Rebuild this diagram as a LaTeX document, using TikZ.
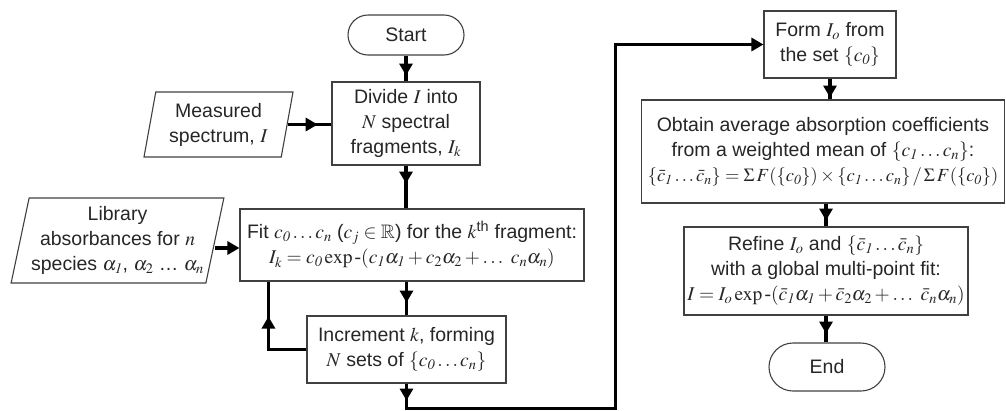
\documentclass[tikz,border=0pt]{standalone}
\usepackage{amssymb}
\usepackage{mathptmx}
\usepackage[no-math]{fontspec}
\setmainfont{Liberation Sans}
\newfontfamily\tms{Liberation Serif}
\usetikzlibrary{arrows.meta,shapes.geometric,decorations.markings}
\newcommand{\hy}{\mbox{\tms -}}

\begin{document}
\begin{tikzpicture}[
  x=1pt,y=-1pt,
  box/.style={draw=black!75,line width=1.1pt,align=center,inner sep=2pt,text=black!85,font=\fontsize{19.5}{25}\selectfont},
  term/.style={box,rounded corners=20pt},
  data/.style={box,trapezium,trapezium left angle=76,trapezium right angle=104,trapezium stretches body},
  lin/.style={line width=3.5pt},
  arr/.style={lin,-{Triangle[length=12pt,width=13pt]}},
  midarr/.style={postaction={decorate},decoration={markings,mark=at position #1 with {\arrow{Triangle[length=12pt,width=13pt]}}}}
]
\useasboundingbox (0,0) rectangle (1006,410);
\node[term,minimum width=116pt,minimum height=40pt] (start) at (406,35) {Start};
\node[box,minimum width=148pt,minimum height=83pt] (divide) at (406,123.5) {Divide $I$ into\\$N$ spectral\\fragments, $I_k$};
\node[data,minimum width=149pt,minimum height=65pt] (meas) at (218.5,124.5) {Measured\\spectrum, $I$};
\node[data,minimum width=207pt,minimum height=85pt] (lib) at (117.5,240.5) {Library\\absorbances for $n$\\species $\alpha_{\mathit{1}}$, $\alpha_2$ \ldots\ $\alpha_n$};
\node[box,minimum width=344pt,minimum height=72pt] (fit) at (412,245) {Fit $c_{\mathit{0}}\ldots c_n$ ($c_j\in\mathbb{R}$) for the $k$\textsuperscript{th} fragment:\\$I_k = c_{\mathit{0}}\exp\hy(c_{\mathit{1}}\alpha_{\mathit{1}} + c_2\alpha_2 + \ldots\ c_n\alpha_n)$};
\node[box,minimum width=199pt,minimum height=67pt] (incr) at (406.5,349.5) {Increment $k$, forming\\$N$ sets of $\{c_{\mathit{0}}\ldots c_n\}$};
\node[box,minimum width=132pt,minimum height=67pt] (form) at (830,44.5) {Form $I_o$ from\\the set $\{c_{\mathit{0}}\}$};
\node[box,minimum width=363pt,minimum height=103pt] (obtain) at (823,151.5) {Obtain average absorption coefficients\\from a weighted mean of $\{c_{\mathit{1}}\ldots c_n\}$:\\{\fontsize{18.5}{25}\selectfont$\{\bar c_{\mathit{1}}\ldots\bar c_n\} = \Sigma\,F(\{c_{\mathit{0}}\})\times\{c_{\mathit{1}}\ldots c_n\}\,/\,\Sigma\,F(\{c_{\mathit{0}}\})$}};
\node[box,minimum width=284pt,minimum height=88pt] (refine) at (826,271) {Refine $I_o$ and $\{\bar c_{\mathit{1}}\ldots\bar c_n\}$\\with a global multi-point fit:\\$I = I_o\exp\hy(\bar c_{\mathit{1}}\alpha_{\mathit{1}} + \bar c_2\alpha_2 + \ldots\ \bar c_n\alpha_n)$};
\node[term,rounded corners=24pt,minimum width=116pt,minimum height=48pt] (stop) at (827,367) {End};
\draw[lin,midarr=20pt] (start) -- (divide);
\draw[lin,midarr=30pt] (meas.east) -- (meas.east -| divide.west);
\draw[lin,midarr=18pt] (divide.south) -- (divide.south |- fit.north);
\draw[arr] ([yshift=-7.5pt]lib.east) -- ([yshift=-7.5pt]lib.east -| fit.west);
\draw[lin,midarr=21pt] (incr.north |- fit.south) -- (incr.north);
\draw[lin,midarr=71pt] (incr.west) -| ([xshift=29pt]fit.south west);
\draw[arr,midarr=17pt] (incr.south) -- ++(0,25) -- ++(209,0) |- (form.west);
\draw[lin,midarr=19pt] (form.south) -- (form.south |- obtain.north);
\draw[lin,midarr=17pt] (refine.north |- obtain.south) -- (refine.north);
\draw[lin,midarr=18pt] (refine.south) -- (refine.south |- stop.north);
\end{tikzpicture}
\end{document}
